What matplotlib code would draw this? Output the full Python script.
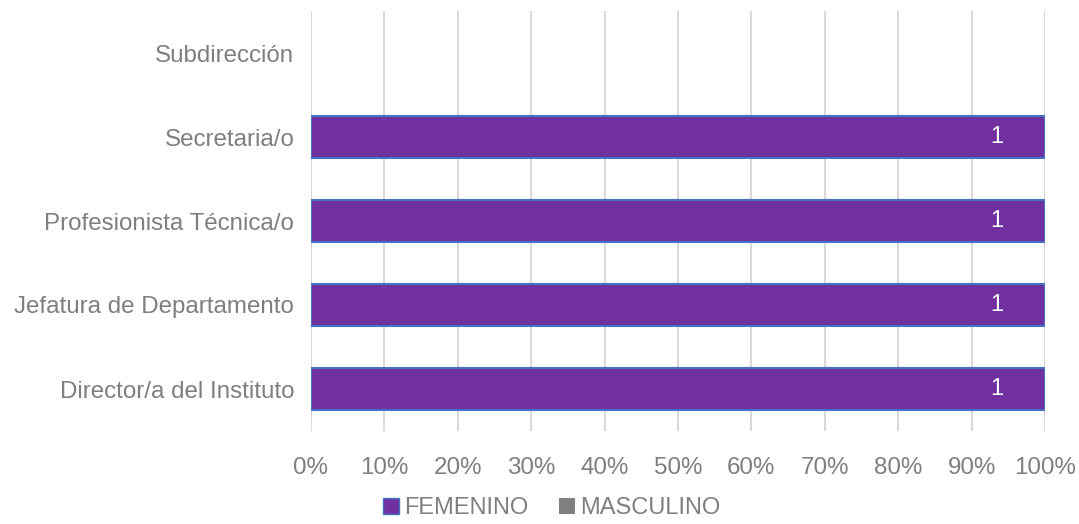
import matplotlib.pyplot as plt
import numpy as np
from matplotlib.patches import Patch

plt.rcParams['font.family'] = ['Liberation Sans', 'DejaVu Sans']

# bottom to top
puestos = ['Director/a del Instituto', 'Jefatura de Departamento',
           'Profesionista Técnica/o', 'Secretaria/o', 'Subdirección']
femenino = [1, 1, 1, 1, 0]
masculino = [0, 0, 0, 0, 0]

fem_color = '#7030A0'
fem_edge = '#4472C4'
mas_color = '#808080'
text_color = '#7F7F7F'


def plot():
    fem = np.array(femenino, dtype=float)
    mas = np.array(masculino, dtype=float)
    total = fem + mas
    safe = np.where(total == 0, 1, total)
    fem_pct = fem / safe
    mas_pct = mas / safe

    fig = plt.figure(figsize=(10.79, 5.24), dpi=100)
    ax = fig.add_axes([311 / 1079, 1 - 431 / 524, 734 / 1079, 420 / 524])
    y = np.arange(len(puestos))

    # empty rows get no bar at all
    has_f = fem > 0
    has_m = mas > 0
    ax.barh(y[has_f], fem_pct[has_f], height=0.5, color=fem_color,
            edgecolor=fem_edge, linewidth=1.5, zorder=3)
    ax.barh(y[has_m], mas_pct[has_m], left=fem_pct[has_m], height=0.5,
            color=mas_color, zorder=3)

    for yi, v, p in zip(y, fem, fem_pct):
        if v > 0:
            ax.text(p - 0.065, yi, f'{int(v)}', color='white', fontsize=17,
                    ha='center', va='center', zorder=4)

    ax.set_xlim(0, 1)
    ax.set_ylim(-0.5, len(puestos) - 0.5)
    ticks = np.linspace(0, 1, 11)
    ax.set_xticks(ticks)
    ax.set_xticklabels([f'{int(round(t * 100))}%' for t in ticks])
    ax.set_yticks(y)
    ax.set_yticklabels(puestos)
    ax.tick_params(axis='both', length=0, labelsize=17.4, colors=text_color)
    ax.tick_params(axis='x', pad=19)
    ax.tick_params(axis='y', pad=12)
    ax.grid(axis='x', color='#D9D9D9', linewidth=1.5, zorder=0)
    for s in ax.spines.values():
        s.set_visible(False)

    handles = [Patch(facecolor=fem_color, edgecolor=fem_edge, label='FEMENINO'),
               Patch(facecolor=mas_color, label='MASCULINO')]
    fig.legend(handles=handles, loc='center', bbox_to_anchor=(552 / 1079, 1 - 508 / 524),
               ncol=2, frameon=False, fontsize=17, handlelength=0.65,
               handleheight=0.65, handletextpad=0.25, columnspacing=1.3,
               labelcolor=text_color)

    fig.savefig('out.png', dpi=100)


def main():
    plot()


if __name__ == '__main__':
    main()
